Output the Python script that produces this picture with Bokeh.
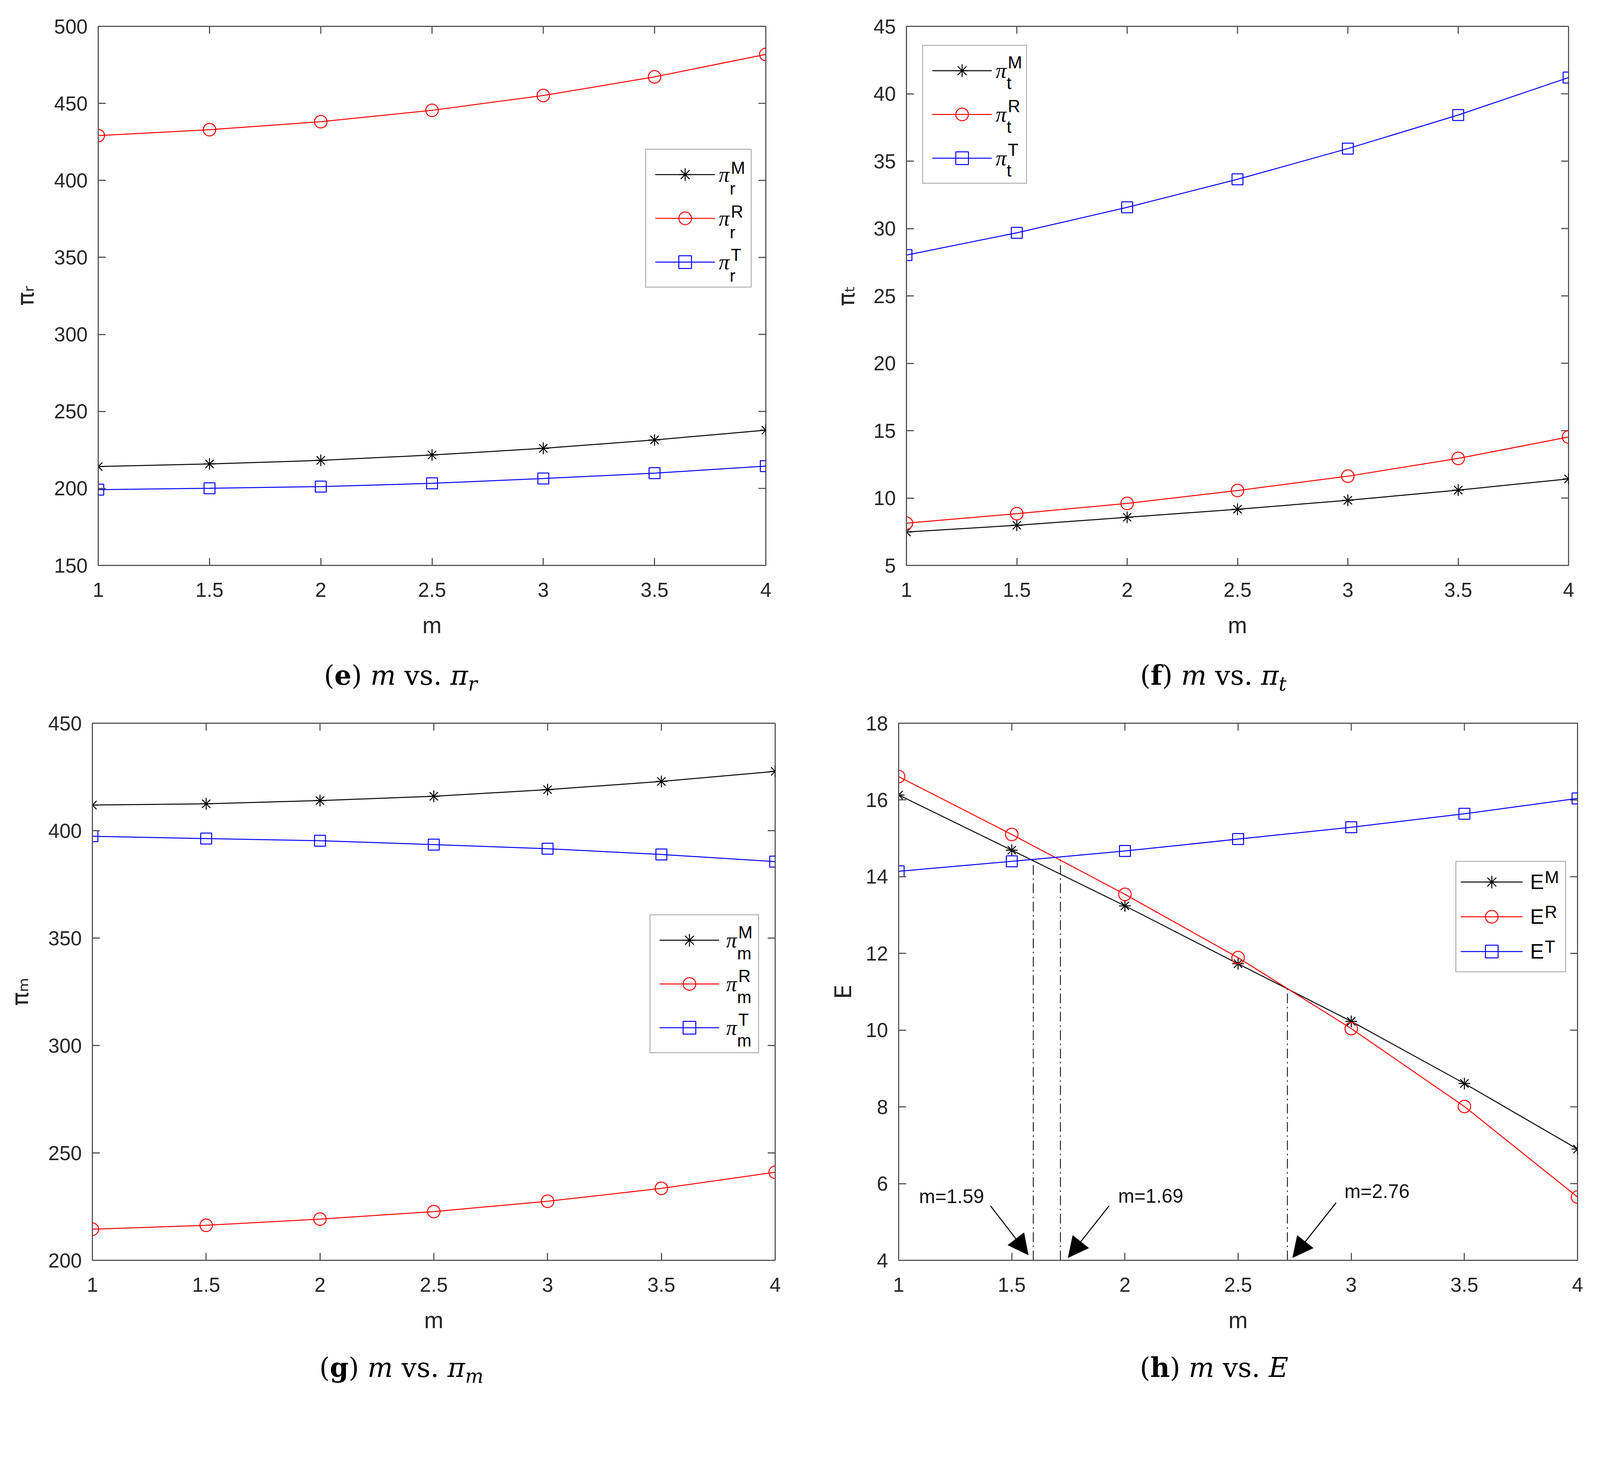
from bokeh.plotting import figure
from bokeh.models import (Range1d, FixedTicker, NumeralTickFormatter, Legend,
                          LegendItem, Arrow, NormalHead, ColumnDataSource, Div)
from bokeh.layouts import column, row
from bokeh.core.properties import value
from bokeh.embed import file_html
from bokeh.resources import INLINE

# ---------------- data ----------------
m_vals = [1, 1.5, 2, 2.5, 3, 3.5, 4]
x_ticks = [1, 1.5, 2, 2.5, 3, 3.5, 4]

pi_r_M = [214.2, 215.9, 218.2, 221.7, 226.0, 231.5, 237.8]
pi_r_R = [429.1, 432.9, 438.1, 445.5, 455.1, 467.2, 481.8]
pi_r_T = [199.2, 200.1, 201.2, 203.3, 206.4, 209.9, 214.5]
ticks_r = [150, 200, 250, 300, 350, 400, 450, 500]

pi_t_M = [7.48, 7.98, 8.57, 9.17, 9.83, 10.59, 11.42]
pi_t_R = [8.14, 8.84, 9.60, 10.56, 11.62, 12.94, 14.53]
pi_t_T = [28.03, 29.68, 31.57, 33.65, 35.93, 38.42, 41.20]
ticks_t = [5, 10, 15, 20, 25, 30, 35, 40, 45]

pi_m_M = [411.9, 412.5, 414.0, 416.0, 419.1, 422.9, 427.6]
pi_m_R = [214.5, 216.3, 219.2, 222.7, 227.5, 233.5, 241.0]
pi_m_T = [397.4, 396.3, 395.3, 393.5, 391.6, 388.9, 385.6]
ticks_m = [200, 250, 300, 350, 400, 450]

E_M = [16.13, 14.69, 13.24, 11.73, 10.23, 8.61, 6.90]
E_R = [16.61, 15.10, 13.54, 11.89, 10.04, 8.01, 5.65]
E_T = [14.14, 14.40, 14.67, 14.98, 15.29, 15.64, 16.04]
ticks_E = [4, 6, 8, 10, 12, 14, 16, 18]

cross_m = [1.595, 1.715, 2.718]
cross_E = [14.46, 14.51, 11.12]
cross_text = ["m=1.59", "m=1.69", "m=2.76"]
cross_text_m = [1.09, 1.97, 2.97]
cross_text_E = [5.66, 5.68, 5.80]
arrow_m0 = [1.406, 1.930, 2.933]
arrow_E0 = [5.42, 5.42, 5.50]
arrow_m1 = [1.573, 1.749, 2.741]
arrow_E1 = [4.14, 4.07, 4.07]

series_sup = ["M", "R", "T"]

# ---------------- styling helpers ----------------
MAG = 1.048          # measured page-to-picture magnification


def c(v):
    return int(round(v / MAG))


def fs(v):
    return "%.1fpx" % (v / MAG)


AX = "#262626"
LINE = "#555555"
SANS = "Liberation Sans"
SERIF = "Liberation Serif"
TICK = c(20)


def make_panel(width, height, bl, fw, bt, fh, ylo, yhi, yticks, ys, leg, ylabel, ylab_standoff,
               base, sub):
    br = width - bl - fw
    bb = height - bt - fh
    p = figure(width=width, height=height, x_range=Range1d(1, 4), y_range=Range1d(ylo, yhi),
               output_backend="svg", toolbar_location=None,
               min_border_left=bl, min_border_right=br, min_border_top=bt, min_border_bottom=bb,
               x_axis_label="m", y_axis_label=ylabel)
    p.xgrid.visible = False
    p.ygrid.visible = False
    p.outline_line_color = LINE
    p.outline_line_width = 2.9
    p.background_fill_color = "white"
    p.border_fill_color = "white"

    p.xaxis.ticker = FixedTicker(ticks=x_ticks)
    p.xaxis.formatter = NumeralTickFormatter(format="0.[0]")
    p.yaxis.ticker = FixedTicker(ticks=yticks)
    p.yaxis.formatter = NumeralTickFormatter(format="0")
    for ax in [p.xaxis[0], p.yaxis[0]]:
        ax.axis_line_color = LINE
        ax.axis_line_width = 2.9
        ax.major_tick_line_color = LINE
        ax.major_tick_line_width = 2.9
        ax.major_tick_in = TICK
        ax.major_tick_out = 0
        ax.minor_tick_in = 0
        ax.minor_tick_out = 0
        ax.major_label_text_font = SANS
        ax.major_label_text_font_size = fs(54)
        ax.major_label_text_color = AX
        ax.axis_label_text_font_size = fs(62)
        ax.axis_label_text_font_style = "normal"
        ax.axis_label_text_color = AX
    p.xaxis.axis_label_text_font = SANS
    p.yaxis.axis_label_text_font = "DejaVu Sans"
    p.xaxis.major_label_standoff = 44
    p.xaxis.axis_label_standoff = 36
    p.yaxis.major_label_standoff = 27
    p.yaxis.axis_label_standoff = ylab_standoff

    # inward ticks on the top and right edges of the box (same tick values as the axes)
    ty = yhi - TICK / fh * (yhi - ylo)
    p.segment(x0=x_ticks, y0=[yhi] * len(x_ticks), x1=x_ticks, y1=[ty] * len(x_ticks),
              line_color=LINE, line_width=2.9)
    tx4 = 4 - TICK / fw * 3
    p.segment(x0=[4] * len(yticks), y0=yticks, x1=[tx4] * len(yticks), y1=yticks,
              line_color=LINE, line_width=2.9)

    colors = ["#000000", "#ff0000", "#0000ff"]
    markers = ["asterisk", "circle", "square"]
    sizes = [c(31), c(34), c(29)]
    items = []
    for yv, col, mk, sz in zip(ys, colors, markers, sizes):
        src = ColumnDataSource(dict(x=m_vals, y=yv))
        lr = p.line("x", "y", source=src, line_color=col, line_width=2.5)
        sr = p.scatter("x", "y", source=src, marker=mk, size=sz, line_color=col,
                       fill_color=None, line_width=2.5)
        items.append((lr, sr))

    # legend (positions given in picture pixels, converted to page pixels)
    lx, ly, w, pad, gw, gh, sp, st = [c(v) for v in leg]
    H = 2 * pad + 3 * gh + 2 * sp
    lw = w - 2 * pad - gw - st
    legend = Legend(items=[LegendItem(label=value(base[0]), renderers=list(r)) for r in items],
                    location=(lx, ly), orientation="vertical", padding=pad, spacing=sp,
                    glyph_width=gw, glyph_height=gh, label_height=gh, label_width=lw,
                    label_standoff=st, margin=0, border_line_color="#444444",
                    border_line_width=2.9, background_fill_alpha=0.0,
                    label_text_font=base[1], label_text_font_style=base[2],
                    label_text_font_size=fs(base[3]), label_text_color="#000000")
    p.add_layout(legend)

    # super/subscripts of the legend labels, drawn as text placed next to each label
    tx = lx + pad + gw + st
    sx, sy, st_txt = [], [], []
    for i in range(3):
        ry = ly + H - pad - gh / 2 - i * (gh + sp)
        sx.append(tx + base[4] / MAG)
        sy.append(ry + base[5] / MAG)
        st_txt.append(series_sup[i])
        if sub:
            sx.append(tx + 31 / MAG)
            sy.append(ry - 31 / MAG)
            st_txt.append(sub)
    dx = [1 + v / fw * 3 for v in sx]
    dy = [ylo + v / fh * (yhi - ylo) for v in sy]
    p.text(x=dx, y=dy, text=st_txt, text_font=value(SANS), text_font_size=fs(46),
           text_baseline="middle", text_align="left", text_color="#000000")
    return p


PI = ("π", SERIF, "italic", 58, 34, 25)
EE = ("E", SANS, "normal", 56, 41, 15)

W1 = c(2160 - 8.4)
W2 = c(4290 - 2160)
H1 = c(1750 - 8.4)
HC1 = c(140)
H2 = c(1720)
HC2 = c(135)

fe = make_panel(W1, H1, c(271 - 8.4), c(1791), c(72 - 8.4), c(1453), 150, 500, ticks_r,
                [pi_r_M, pi_r_R, pi_r_T], (1468, 745, 281, 24, 160, 85, 32, 10),
                "πᵣ", 36, PI, "r")
ff = make_panel(W2, H1, c(2440 - 2160), c(1776), c(79 - 8.4), c(1446), 5, 45, ticks_t,
                [pi_t_M, pi_t_R, pi_t_T], (43, 1024, 277, 24, 160, 85, 32, 11),
                "πₜ", 32, PI, "t")
fg = make_panel(W1, H2, c(256 - 8.4), c(1832), c(1945 - 1890), c(1444), 200, 450, ticks_m,
                [pi_m_M, pi_m_R, pi_m_T], (1495, 555, 289, 24, 160, 85, 32, 19),
                "πₘ", 35, PI, "m")
fh = make_panel(W2, H2, c(2419 - 2160), c(1821), c(1948 - 1890), c(1441), 4, 18, ticks_E,
                [E_M, E_R, E_T], (1494, 772, 292, 12, 167, 85, 8, 20),
                "E", 20, EE, None)

# annotations in panel h
fh.segment(x0=cross_m, y0=[4, 4, 4], x1=cross_m, y1=cross_E, line_color="#222222",
           line_width=2.4, line_dash="25 9 4 9")
fh.text(x=cross_text_m, y=cross_text_E, text=cross_text, text_font=value(SANS),
        text_font_size=fs(52), text_baseline="middle", text_align="left", text_color="#111111")
asrc = ColumnDataSource(dict(x0=arrow_m0, y0=arrow_E0, x1=arrow_m1, y1=arrow_E1))
fh.add_layout(Arrow(x_start="x0", y_start="y0", x_end="x1", y_end="y1", source=asrc,
                    line_color="#000000", line_width=2.6,
                    end=NormalHead(size=c(54), fill_color="#000000", line_color="#000000")))


def caption(letter, var_html, width, height, shift):
    html = ('<div style="position:relative;left:%dpx;width:%dpx;height:%dpx;line-height:%dpx;'
            'text-align:center;font-family:\'DejaVu Serif\';font-size:%s;color:#000;'
            'white-space:nowrap">(<b>%s</b>) <i>m</i> vs. %s</div>'
            % (shift, width, height, height, fs(72), letter, var_html))
    return Div(text=html, width=width, height=height, margin=0)


SUB = '<sub style="font-size:0.72em;line-height:0;vertical-align:-0.3em">%s</sub>'
de = caption("e", "<i>π" + SUB % "r" + "</i>", W1, HC1, -1)
df = caption("f", "<i>π" + SUB % "t" + "</i>", W2, HC1, 37)
dg = caption("g", "<i>π" + SUB % "m" + "</i>", W1, HC2, 1)
dh = caption("h", "<i>E</i>", W2, HC2, 39)

layout = column(row(fe, ff), row(de, df), row(fg, fh), row(dg, dh))
open("out.html", "w").write(file_html(layout, INLINE))
